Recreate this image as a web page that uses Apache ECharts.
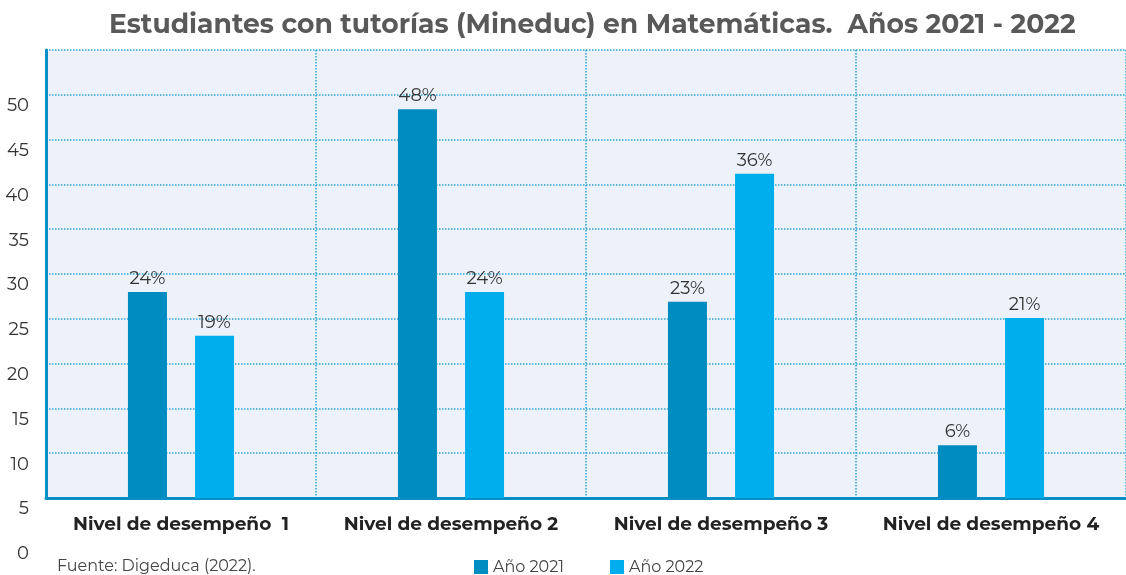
<!DOCTYPE html>
<html>
<head>
<meta charset="utf-8">
<script src="https://cdn.jsdelivr.net/npm/echarts@6/dist/echarts.min.js"></script>
<style>
  html, body { margin: 0; padding: 0; background: #fff; }
  #chart { width: 1126px; height: 575px; }
</style>
</head>
<body>
<div id="chart"></div>
<script>
var categories = ["Nivel de desempeño  1", "Nivel de desempeño 2", "Nivel de desempeño 3", "Nivel de desempeño 4"];
var seriesNames = ["Año 2021", "Año 2022"];
// bar heights
var values2021 = [28.0, 48.4, 26.9, 10.9];
var values2022 = [23.1, 28.0, 41.2, 25.1];
// printed labels on top of bars
var labels2021 = ["24%", "48%", "23%", "6%"];
var labels2022 = ["19%", "24%", "36%", "21%"];
var tickValues = [0, 5, 10, 15, 20, 25, 30, 35, 40, 45, 50];

var chart = echarts.init(document.getElementById("chart"));

var fontName = "Montserrat, 'Open Sans', sans-serif";

function barSeries(name, data, labels, color) {
  return {
    name: name,
    type: "bar",
    xAxisIndex: 0,
    yAxisIndex: 0,
    data: data,
    barWidth: 39,
    barGap: "72%",
    itemStyle: { color: color },
    label: {
      show: true,
      position: "top",
      distance: 4,
      color: "#333",
      fontSize: 18,
      fontFamily: fontName,
      formatter: function (p) {
        return labels[p.dataIndex];
      }
    }
  };
}

var option = {
  backgroundColor: "#fff",
  title: [
    {
      text: "Estudiantes con tutorías (Mineduc) en Matemáticas.  Años 2021 - 2022",
      left: 109,
      top: 12,
      padding: 0,
      textStyle: { color: "#595959", fontSize: 26.6, fontWeight: "bold", fontFamily: fontName }
    },
    {
      text: "Fuente: Digeduca (2022).",
      left: 57,
      top: 558,
      padding: 0,
      textStyle: { color: "#444", fontSize: 16, fontWeight: "normal", fontFamily: fontName }
    }
  ],
  legend: {
    data: seriesNames,
    left: 474,
    top: 559,
    padding: 0,
    itemWidth: 14,
    itemHeight: 14,
    itemGap: 46,
    icon: "rect",
    textStyle: { color: "#444", fontSize: 16, fontFamily: fontName }
  },
  grid: [
    {
      left: 46, right: 0, top: 50, bottom: 77,
      show: true, backgroundColor: "#edf1f9", borderWidth: 0
    },
    {
      left: 46, right: 0, top: 50, bottom: 32,
      show: false
    }
  ],
  xAxis: [
    {
      gridIndex: 0,
      type: "category",
      data: categories,
      axisLine: { lineStyle: { color: "#0a8ec6", width: 3 } },
      axisTick: { show: false },
      splitLine: { show: true, interval: 0, lineStyle: { type: "dotted", color: "#2aa6d3", width: 1.5 } },
      axisLabel: {
        interval: 0,
        margin: 17,
        color: "#222",
        fontSize: 18.5,
        fontWeight: "bold",
        fontFamily: fontName
      }
    },
    {
      gridIndex: 1,
      type: "category",
      data: categories,
      show: false
    }
  ],
  yAxis: [
    {
      gridIndex: 0,
      type: "value",
      min: 5,
      max: 55,
      interval: 5,
      axisLine: { show: true, lineStyle: { color: "#0a8ec6", width: 3 } },
      axisTick: { show: false },
      axisLabel: { show: false },
      splitLine: { show: true, lineStyle: { type: "dotted", color: "#2aa6d3", width: 1.5 } }
    },
    {
      gridIndex: 1,
      type: "value",
      min: 0,
      max: 55,
      interval: 5,
      axisLine: { show: false },
      axisTick: { show: false },
      splitLine: { show: false },
      axisLabel: {
        margin: 17,
        verticalAlign: "top",
        padding: [2, 0, 0, 0],
        color: "#333",
        fontSize: 18,
        fontFamily: fontName,
        formatter: function (v) {
          return tickValues.indexOf(v) >= 0 ? String(v) : "";
        }
      }
    }
  ],
  series: [
    barSeries(seriesNames[0], values2021, labels2021, "#008cc0"),
    barSeries(seriesNames[1], values2022, labels2022, "#00aeee")
  ]
};

chart.setOption(option);
</script>
</body>
</html>
